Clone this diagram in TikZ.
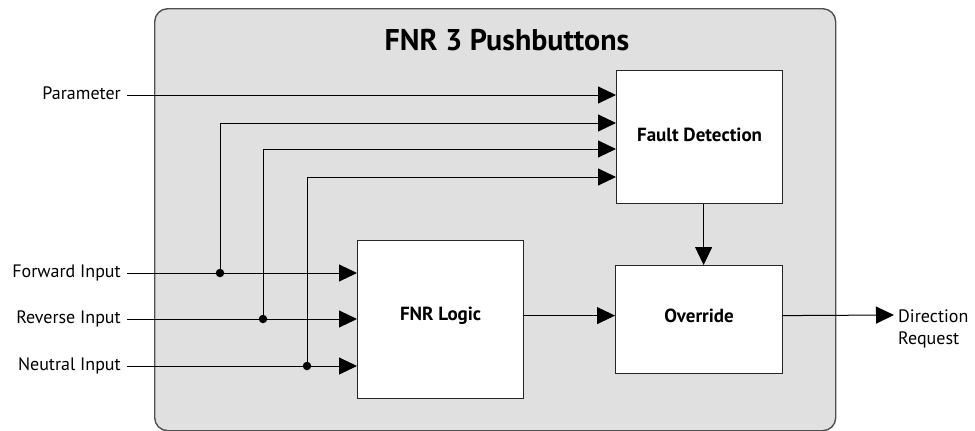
\documentclass[tikz,border=0pt]{standalone}
\usepackage{fontspec}
\setmainfont{PT Sans}
\usetikzlibrary{arrows.meta}
\definecolor{panelgray}{HTML}{E0E0E0}
\definecolor{panelborder}{HTML}{505050}
\begin{document}
\begin{tikzpicture}[x=1pt,y=-1pt,
  panel/.style={draw=panelborder,line width=1.4pt,fill=panelgray,rounded corners=13pt,inner sep=0pt,anchor=north west},
  block/.style={draw=black!85,line width=1.2pt,fill=white,inner sep=0pt,anchor=north west},
  blabel/.style={font=\fontsize{19}{22}\selectfont\bfseries},
  lbl/.style={inner sep=0pt,font=\fontsize{18}{21}\selectfont,text height=12pt,text depth=3pt},
  wire/.style={line width=1pt,black},
  arr/.style={wire,-{Triangle[length=18pt,width=17pt]}},
  dot/.style={circle,fill=black,inner sep=0pt,minimum size=8.5pt}
]
\useasboundingbox (0,0) rectangle (975,431);
\node[panel,minimum width=681pt,minimum height=422pt] (outer) at (154,8) {};
\node[font=\fontsize{30}{34}\selectfont\bfseries] (title) at (507,40) {FNR 3 Pushbuttons};

\node[block,minimum width=166pt,minimum height=133pt] (fd) at (616,70) {};
\node[blabel] (fdt) at ([yshift=2pt]fd.center) {Fault Detection};
\node[block,minimum width=166pt,minimum height=158pt] (logic) at (357,240) {};
\node[blabel] (logict) at ([yshift=4pt]logic.center) {FNR Logic};
\node[block,minimum width=167pt,minimum height=108pt] (ov) at (615,265) {};
\node[blabel] (ovt) at ([yshift=4pt]ov.center) {Override};

\node[lbl,anchor=east] (param) at (121,95) {Parameter};
\node[lbl,anchor=east] (fwd) at (121,273) {Forward Input};
\node[lbl,anchor=east] (rev) at (121,319) {Reverse Input};
\node[lbl,anchor=east] (neu) at (121,366) {Neutral Input};
\node[inner sep=0pt,font=\fontsize{18}{22}\selectfont,anchor=north west,align=left] (dir) at (898,310) {Direction\\Request};

\coordinate (p0) at (127,95);
\coordinate (f0) at (127,273);
\coordinate (r0) at (127,319);
\coordinate (n0) at (127,366);
\node[dot] (j1) at (220,273) {};
\node[dot] (j2) at (263,319) {};
\node[dot] (j3) at (307,366) {};
\coordinate (t0) at (616,95);
\coordinate (t1) at (616,123);
\coordinate (t2) at (616,149);
\coordinate (t3) at (616,177);
\coordinate (dirtip) at (894,315);

\draw[arr] (p0) -- (t0);
\draw[arr] (f0) -- (f0 -| logic.west);
\draw[arr] (r0) -- (r0 -| logic.west);
\draw[arr] (n0) -- (n0 -| logic.west);
\draw[arr] (j1.center) |- (t1);
\draw[arr] (j2.center) |- (t2);
\draw[arr] (j3.center) |- (t3);
\draw[arr] ([xshift=4pt]fd.south) -- ([xshift=4pt]fd.south |- ov.north);
\draw[arr] ([yshift=4pt]logic.east) -- ([yshift=4pt]ov.west);
\draw[arr] ([yshift=4pt]ov.east) -- (dirtip);
\end{tikzpicture}
\end{document}
